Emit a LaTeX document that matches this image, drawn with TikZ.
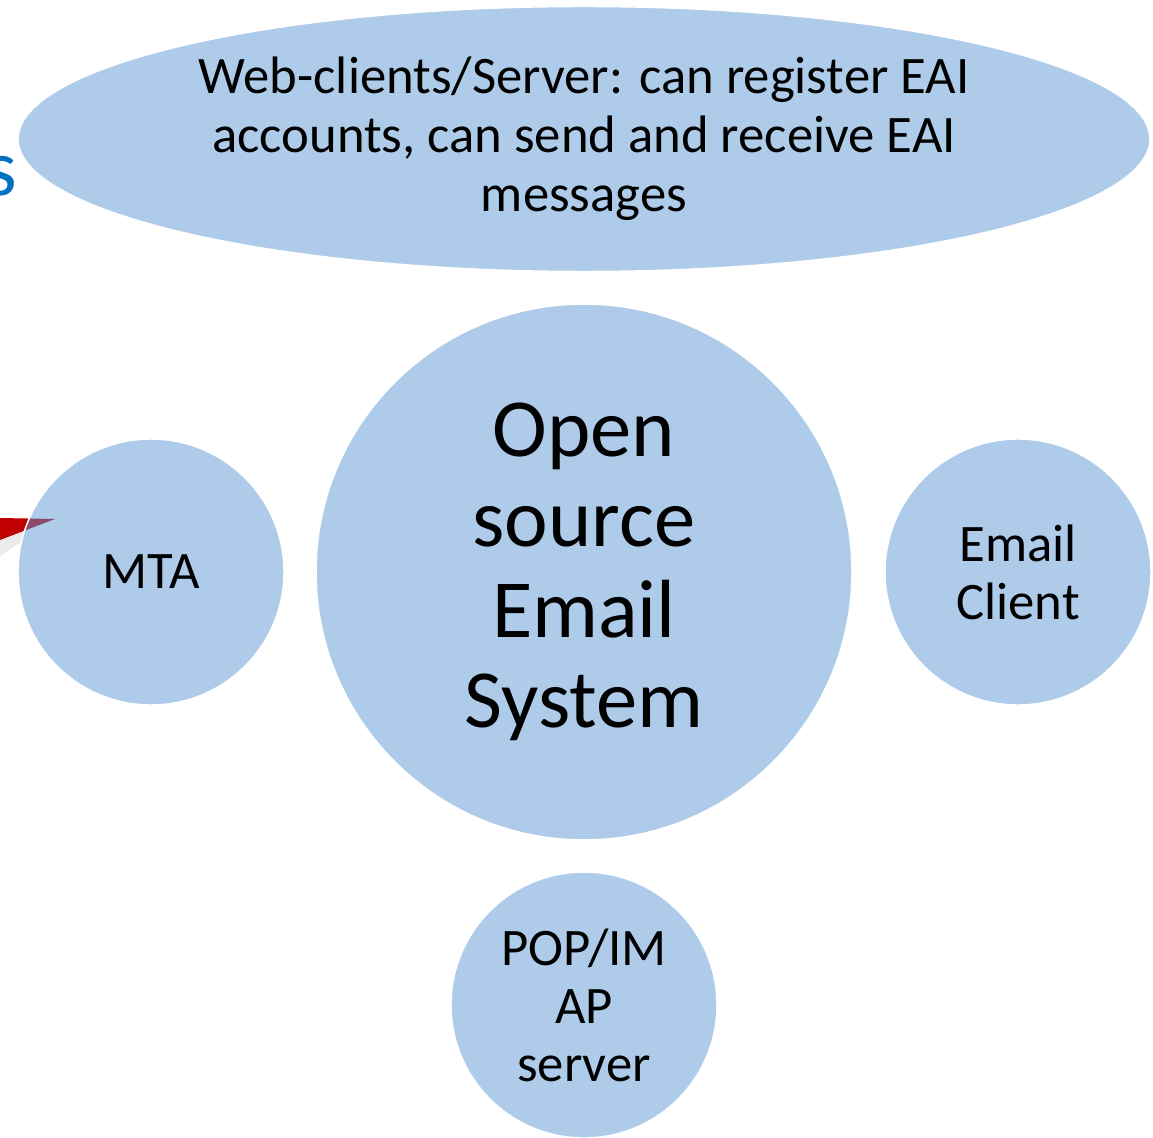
\documentclass[tikz,border=0pt]{standalone}
\usepackage{fontspec}
\setmainfont{Carlito}
\usetikzlibrary{shapes.geometric}

\definecolor{bubble}{RGB}{174,204,234}
\definecolor{titleblue}{RGB}{0,112,192}
\definecolor{arrowred}{RGB}{192,0,0}
\definecolor{arrowmauve}{RGB}{142,74,108}

\tikzset{
	bubble/.style={circle, fill=bubble, draw=white, line width=0.8pt, inner sep=0pt, align=center},
	small/.style={bubble, minimum size=5.32cm, font=\fontsize{30}{33}\selectfont},
}

\begin{document}
\begin{tikzpicture}[x=0.02cm, y=0.02cm]

	\useasboundingbox (0,0) rectangle (1153,-1138);

	% cut off heading letter
	\node[anchor=base east, inner sep=0pt, text=titleblue, font=\fontsize{46}{46}\selectfont] (head) at (17,-196) {s};

	\node[ellipse, fill=bubble, draw=white, line width=0.8pt, inner sep=0pt, minimum width=22.64cm, minimum height=5.3cm, align=center, font=\fontsize{30}{33.6}\selectfont] (web) at (584,-139) {Web-clients/Server: can register EAI\\accounts, can send and receive EAI\\messages};

	% red arrow from the left
	\fill[black, opacity=0.08] (0,-530) -- (48,-524) -- (0,-556) -- cycle;
	\fill[arrowred] (0,-518) -- (55,-519) -- (0,-540) -- cycle;

	\node[small] (mta) at (151,-572) {MTA};

	\begin{scope}
		\clip (151,-572) circle[radius=132];
		\fill[arrowmauve] (0,-518) -- (55,-519) -- (0,-540) -- cycle;
	\end{scope}

	\node[bubble, minimum size=10.72cm, font=\fontsize{47}{51.5}\selectfont] (oses) at (584,-572) {Open\\source\\Email\\System};

	\node[small] (client) at (1018,-572) {Email\\Client};
	\node[small] (pop) at (584,-1005) {POP/IM\\AP\\server};

\end{tikzpicture}
\end{document}
